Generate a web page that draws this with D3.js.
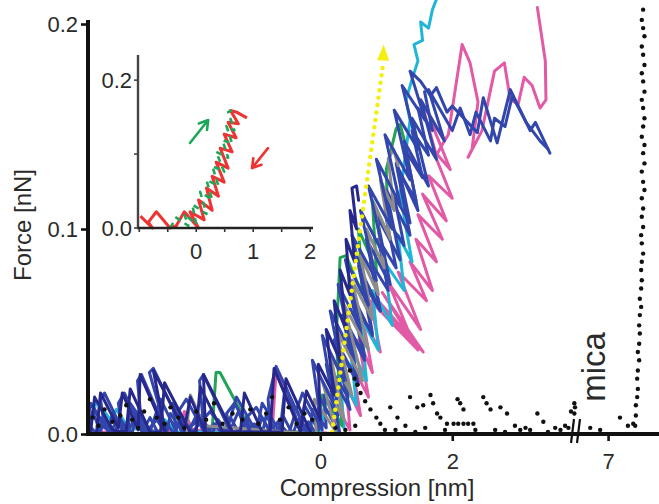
<!DOCTYPE html>
<html>
<head>
<meta charset="utf-8">
<script src="https://cdn.jsdelivr.net/npm/d3@7"></script>
<style>
  html, body { margin: 0; padding: 0; background: #fff; }
  svg { display: block; }
  text { font-family: "Liberation Sans", Arial, Helvetica, sans-serif; fill: #2a2a2a; }
</style>
</head>
<body>
<svg id="chart" width="659" height="504"></svg>
<script>
// ---- main panel: compression [nm] vs force [nN] ----
const xTicks = [0, 2, 7];
const yTicks = [0, 0.1, 0.2];

// blue approach curve, long run with plateau
const blueA = [[-3.52,0.007],[-3.48,0.015],[-3.27,0.003],[-3.33,0.017],[-3.27,0.020],[-3.00,0.002],[-3.06,0.015],[-2.97,0.020],[-2.70,0.002],[-2.77,0.026],[-2.71,0.029],[-2.33,0.001],[-2.59,0.030],[-2.53,0.032],[-2.06,0.001],[-2.15,0.011],[-2.03,0.017],[-1.76,0.001],[-1.83,0.026],[-1.77,0.029],[-1.36,0.001],[-1.42,0.010],[-1.30,0.015],[-1.06,0.001],[-1.12,0.008],[-0.97,0.013],[-0.76,0.001],[-0.79,0.017],[-0.67,0.033],[-0.21,0.001],[-0.36,0.012],[-0.30,0.017],
  [-0.27,0.020],[0.03,0.002],[-0.12,0.036],[0.21,0.014],[0.03,0.048],[0.36,0.026],[0.15,0.060],[0.48,0.039],[0.27,0.073],[0.61,0.051],[0.38,0.085],[0.73,0.063],[0.48,0.097],[0.85,0.075],[0.61,0.109],[0.97,0.087],[0.73,0.121],[1.09,0.100],[0.85,0.134],[1.21,0.112],[0.98,0.146],[1.36,0.124],[1.12,0.158],[1.48,0.139],[1.24,0.170],[1.59,0.153],[1.36,0.177],
  [1.52,0.172],[1.67,0.165],[1.76,0.169],[1.92,0.157],[2.00,0.160],[2.38,0.147],[2.47,0.164],[2.68,0.142],[2.88,0.168],[3.18,0.148],[3.26,0.152],[3.48,0.137]];

// second blue curve
const blueB = [[-3.52,0.002],[-3.42,0.012],[-3.21,0.001],[-3.15,0.010],[-2.91,0.001],[-2.88,0.015],[-2.58,0.001],[-2.42,0.017],[-2.18,0.001],[-2.24,0.015],[-1.94,0.001],[-1.67,0.011],[-1.42,0.001],[-1.27,0.018],[-0.97,0.001],[-0.88,0.015],[-0.61,0.001],[-0.53,0.024],[-0.30,0.001],[-0.24,0.014],[-0.03,0.002],
  [-0.03,0.019],[0.30,0.000],[0.09,0.034],[0.45,0.012],[0.21,0.046],[0.58,0.024],[0.33,0.058],[0.67,0.036],[0.45,0.070],[0.79,0.048],[0.58,0.082],[0.91,0.060],[0.70,0.095],[1.06,0.073],[0.85,0.107],[1.21,0.085],[1.00,0.119],[1.36,0.097],[1.15,0.132],[1.48,0.109],[1.27,0.143],[1.64,0.121],[1.39,0.154],[1.76,0.134],[1.52,0.163],[1.88,0.143],[1.64,0.168],[2.00,0.148],
  [2.12,0.159],[2.27,0.146],[2.36,0.157],[2.58,0.143],[2.64,0.154],[2.80,0.150],[2.91,0.165],[3.12,0.152],[3.33,0.143],[3.45,0.139]];

// third blue curve, finer steps through the contact region
const blueD = [[-0.15,0],[-0.12,0.012],[0.09,0.003],[0.06,0.019],[0.27,0.009],[0.21,0.029],[0.42,0.018],[0.33,0.040],[0.55,0.027],[0.45,0.051],[0.67,0.038],[0.55,0.061],[0.79,0.049],[0.67,0.073],[0.91,0.060],[0.76,0.084],[1.03,0.070],[0.88,0.095],[1.15,0.081],[1.00,0.105],[1.27,0.092],[1.12,0.116],[1.36,0.103],[1.21,0.127],[1.45,0.114],[1.30,0.138],[1.55,0.125],[1.39,0.148],[1.64,0.136],[1.48,0.159],[1.70,0.148],[1.58,0.167]];

// low-force blue noise before contact
const blueC = [[-3.52,0.003],[-3.45,0.011],[-3.33,0.001],[-3.27,0.008],[-3.12,0.001],[-3.03,0.007],[-2.85,0],[-2.79,0.010],[-2.64,0.001],[-2.48,0.007],[-2.33,0],[-2.27,0.010],[-2.09,0.001],[-1.91,0.005],[-1.82,0.009],[-1.64,0],[-1.55,0.007],[-1.39,0],[-1.24,0.011],[-1.12,0.001],[-1.00,0.005],[-0.88,0],[-0.82,0.009],[-0.67,0.001],[-0.55,0.008],[-0.42,0],[-0.33,0.007],[-0.12,0]];
const blueE = [[-3.52,0.005],[-3.39,0],[-3.30,0.008],[-3.18,0.001],[-3.09,0.006],[-2.94,0],[-2.82,0.007],[-2.70,0.001],[-2.58,0.008],[-2.45,0],[-2.33,0.005],[-2.21,0],[-2.12,0.007],[-2.00,0.001],[-1.88,0.009],[-1.73,0],[-1.61,0.005],[-1.48,0],[-1.36,0.008],[-1.24,0.001],[-1.12,0.006],[-0.97,0],[-0.88,0.008],[-0.76,0.001],[-0.64,0.006],[-0.48,0],[-0.39,0.009],[-0.27,0.001],[-0.18,0.006],[-0.06,0]];

// dark navy curves
const navy = [[-3.39,0.001],[-3.33,0.020],[-3.06,0.003],[-3.00,0.020],[-2.76,0.002],[-2.73,0.029],[-2.35,0.001],[-2.53,0.031],[-2.06,0.002],[-1.97,0.018],[-1.74,0.001],[-1.77,0.029],[-1.33,0.001],[-0.76,0.001],[-0.70,0.032],[-0.30,0.001],
  [-0.21,0.021],[0.00,0.007],[-0.03,0.034],[0.21,0.019],[0.09,0.051],[0.30,0.036],[0.21,0.065],[0.39,0.051],[0.30,0.080],[0.45,0.068],[0.39,0.095],[0.52,0.084],[0.45,0.109],[0.55,0.100],[0.48,0.120],[0.55,0.121],[0.58,0.114]];
const navyB = [[-3.48,0.001],[-3.42,0.018],[-3.15,0.002],[-2.94,0.001],[-2.88,0.022],[-2.58,0.001],[-2.42,0.001],[-2.36,0.025],[-1.97,0.001],[-1.88,0.001],[-1.82,0.023],[-1.48,0.001],[-1.21,0.001],[-1.15,0.020],[-0.88,0.001],[-0.58,0.001],[-0.52,0.027],[-0.15,0.001]];

const gray = [[-2.03,0.001],[-1.97,0.019],[-1.76,0.004],[-0.06,0],
  [-0.09,0.017],[0.24,0.001],[0.03,0.026],[0.36,0.007],[0.15,0.039],[0.48,0.019],[0.24,0.051],[0.64,0.026],[0.36,0.063],[0.73,0.041],[0.48,0.075],[0.79,0.056],[0.61,0.087],[0.88,0.068],[0.70,0.100],[0.97,0.081],[0.82,0.112],[1.06,0.095],[0.91,0.124],[1.12,0.109],[1.03,0.134],[1.11,0.139],[1.18,0.131]];

const green = [[-1.64,0.001],[-1.58,0.030],[-1.52,0.030],[-1.12,0.006],[-1.06,0.001],[-0.03,0.001],
  [0.03,0.019],[0.33,0.004],[0.24,0.046],[0.30,0.086],[0.39,0.087],[0.64,0.068],[0.58,0.100],[0.85,0.080],[0.79,0.114],[1.03,0.097],[1.00,0.129],[1.15,0.149],[1.21,0.151],[1.30,0.140]];

const cyan = [[-3.52,0.001],[-3.39,0.016],[-3.18,0.007],[-3.09,0.012],[-2.91,0.003],[-2.42,0.001],[-2.36,0.007],[-2.18,0.001],[-0.03,0.001],
  [0.00,0.001],[0.09,0.017],[0.36,0.003],[0.30,0.029],[0.55,0.014],[0.45,0.043],[0.70,0.026],[0.61,0.057],[0.88,0.041],[0.79,0.070],[1.09,0.053],[0.97,0.084],[1.27,0.070],[1.18,0.097],[1.39,0.084],[1.21,0.117],[1.30,0.139],[1.36,0.153],[1.30,0.163],[1.39,0.173],[1.48,0.182],[1.42,0.190],[1.55,0.192],[1.52,0.201],[1.64,0.198],[1.70,0.207],[1.76,0.212]];

const pink = [[-3.52,0.001],[-2.88,0.001],[-2.82,0.009],[-2.70,0.002],[-2.12,0.001],[-2.06,0.011],[-1.94,0.002],[-0.73,0.001],[-0.67,0.030],[-0.30,0.002],
  [0.21,0.000],[0.24,0.014],[0.45,0.002],[0.39,0.024],[0.61,0.009],[0.48,0.034],[0.73,0.018],[0.58,0.046],[0.79,0.030],[0.64,0.057],[0.91,0.040],[0.76,0.065],[1.48,0.041],[0.85,0.066],[1.56,0.040],[0.94,0.069],[1.39,0.046],[1.03,0.074],[1.52,0.051],[1.18,0.079],[1.61,0.065],[1.36,0.084],[1.70,0.070],[1.45,0.095],[1.76,0.084],[1.48,0.107],[1.85,0.095],[1.55,0.117],[1.91,0.104],[1.64,0.126],[2.00,0.115],[1.70,0.139],[1.97,0.129],[1.67,0.153],[1.79,0.148],[1.52,0.163],
  [1.76,0.136],[1.88,0.143],[1.94,0.146],[2.15,0.190],[2.27,0.181],[2.39,0.162],[2.30,0.139],[2.24,0.135],[2.45,0.148],[2.64,0.177],[2.79,0.181],[2.88,0.163],[3.00,0.161],[3.09,0.174],[3.21,0.170],[3.33,0.159],[3.42,0.163],[3.41,0.182],[3.35,0.195],[3.29,0.208]];

// black dotted curve: noise, retract jumps and the hard mica wall
const blackDots = [[-3.45,0.008],[-3.36,0.004],[-3.27,0.012],[-3.15,0.006],[-3.03,0.009],[-2.94,0.014],[-2.85,0.007],[-2.76,0.003],[-2.67,0.011],[-2.58,0.017],[-2.48,0.008],[-2.36,0.005],[-2.27,0.013],[-2.15,0.008],[-2.06,0.003],[-1.88,0.011],[-1.73,0.007],[-1.61,0.015],[-1.48,0.005],[-1.33,0.010],[-1.18,0.007],[-1.06,0.012],[-0.94,0.005],[-0.82,0.010],[-0.73,0.018],[-0.61,0.007],[-0.48,0.013],[-0.36,0.005],[-0.24,0.010],[-0.12,0.007],
  [0.45,0.031],[0.52,0.027],[0.56,0.024],[0.61,0.020],[0.68,0.016],[0.76,0.012],[0.85,0.008],[0.91,0.005],[1.06,0.013],[1.17,0.008],[1.29,0.004],[1.36,0.018],[1.47,0.013],[1.56,0.014],[1.67,0.019],[1.71,0.015],[1.77,0.010],[1.82,0.008],[1.92,0.005],[2.08,0.017],[2.12,0.015],[2.17,0.012],[2.02,0.005],[2.09,0.005],[2.17,0.005],[2.24,0.005],[2.32,0.005],[2.47,0.018],[2.52,0.015],[2.58,0.012],[2.73,0.013],[2.83,0.010],[2.95,0.004],[3.11,0.003],[3.29,0.010],[3.38,0.006],[3.56,0.003],[3.71,0.004],[3.80,0.011],[3.85,0.015],[3.86,0.013],[3.85,0.010],
  [0.23,0.003],[0.38,0.002],[0.53,0.004],[0.98,0.002],[1.14,0.002],[1.44,0.001],[1.59,0.003],[1.89,0.002],[2.35,0.002],[2.65,0.002],[2.80,0.001],[3.03,0.002],[3.18,0.002],[3.45,0.001],[3.64,0.002],[3.76,0.003],
  [6.73,0.003],[6.88,0.002],[7.18,0.008],[7.30,0.004],[7.38,0.005]];
const micaDots = [[7.41,0.004],[7.42,0.009],[7.42,0.014],[7.44,0.018],[7.45,0.022],[7.44,0.027],[7.45,0.031],[7.47,0.036],[7.45,0.040],[7.47,0.044],[7.48,0.049],[7.47,0.053],[7.48,0.058],[7.50,0.062],[7.48,0.066],[7.50,0.071],[7.51,0.075],[7.50,0.080],[7.51,0.084],[7.53,0.088],[7.51,0.093],[7.50,0.097],[7.53,0.101],[7.51,0.106],[7.53,0.110],[7.51,0.115],[7.55,0.119],[7.53,0.123],[7.51,0.128],[7.55,0.132],[7.53,0.137],[7.55,0.141],[7.51,0.145],[7.53,0.150],[7.55,0.154],[7.53,0.159],[7.51,0.163],[7.55,0.167],[7.53,0.172],[7.51,0.176],[7.55,0.180],[7.53,0.185],[7.51,0.189],[7.55,0.194],[7.53,0.198],[7.51,0.202],[7.53,0.207]];

// yellow guide: slope of the contact region
const guide = [[0.18,0.001],[0.95,0.18]];
const guideTip = [0.96,0.19];

// ---- inset: one approach / retract pair ----
const insetXTicks = [-1, -0.5, 0, 0.5, 1, 1.5, 2];
const insetXLabels = [0, 1, 2];
const insetYTicks = [0, 0.1, 0.2];
const insetYLabels = [0, 0.2];
const insetApproach = [[-0.46,0],[-0.35,0.014],[-0.14,0.003],[-0.21,0.019],[0,0.005],[-0.07,0.032],[0.18,0.019],[0.07,0.049],[0.28,0.038],[0.18,0.065],[0.39,0.057],[0.28,0.084],[0.49,0.076],[0.35,0.103],[0.56,0.095],[0.46,0.119],[0.63,0.114],[0.53,0.138],[0.67,0.132],[0.56,0.157],[0.63,0.159]];
const insetRetract = [[-0.98,0.016],[-0.77,0],[-0.84,0.008],[-0.70,0.022],[-0.46,0],[-0.35,0.003],[-0.21,0.022],[0.04,0],[-0.11,0.022],[0.14,0.011],[0.04,0.038],[0.28,0.024],[0.18,0.054],[0.39,0.043],[0.28,0.070],[0.49,0.062],[0.35,0.089],[0.56,0.081],[0.42,0.108],[0.63,0.103],[0.49,0.127],[0.70,0.122],[0.56,0.143],[0.74,0.141],[0.60,0.159],[0.70,0.157],[0.77,0.154],[0.89,0.149]];
const approachArrow = [[-0.11,0.115],[0.21,0.146]];
const retractArrow = [[1.26,0.108],[0.98,0.081]];

const colors = {
  blue: "#3246ac", navy: "#27288c", gray: "#8c8c8c", green: "#22a356",
  cyan: "#22b6d6", pink: "#e25aa6", black: "#111", yellow: "#f4ee10",
  inGreen: "#1fa65a", inRed: "#ee3333"
};

const svg = d3.select("#chart");

// broken x axis: the gap between the sample range and the mica wall is squeezed
const x = d3.scaleLinear().domain([-3.52, 3.86, 6.53, 7.77]).range([88, 575, 577, 659]);
const y = d3.scaleLinear().domain([0, 0.2]).range([434, 24]);
const line = d3.line().x(d => x(d[0])).y(d => y(d[1]));

svg.append("defs").append("clipPath").attr("id", "plotClip")
  .append("rect").attr("x", 88).attr("y", 0).attr("width", 571).attr("height", 437);

const plot = svg.append("g").attr("clip-path", "url(#plotClip)");

const traces = [
  [pink, colors.pink], [cyan, colors.cyan], [green, colors.green],
  [blueE, colors.blue], [blueC, colors.blue], [blueD, colors.blue], [blueB, colors.blue],
  [gray, colors.gray], [blueA, colors.blue], [navyB, colors.navy], [navy, colors.navy]
];
plot.selectAll("path.trace").data(traces).join("path")
  .attr("class", "trace")
  .attr("d", d => line(d[0]))
  .attr("fill", "none")
  .attr("stroke", d => d[1])
  .attr("stroke-width", 3)
  .attr("stroke-linejoin", "round")
  .attr("stroke-linecap", "round");

plot.selectAll("circle.dot").data(blackDots.concat(micaDots)).join("circle")
  .attr("class", "dot")
  .attr("cx", d => x(d[0])).attr("cy", d => y(d[1]))
  .attr("r", 2.2).attr("fill", colors.black);

// yellow dotted guide with triangular head
plot.append("path").attr("d", line(guide))
  .attr("fill", "none").attr("stroke", colors.yellow)
  .attr("stroke-width", 4.5).attr("stroke-linecap", "round")
  .attr("stroke-dasharray", "0,7.5");
{
  const tx = x(guideTip[0]), ty = y(guideTip[1]);
  const bx = x(guide[1][0]), by = y(guide[1][1]);
  const ang = Math.atan2(ty - by, tx - bx);
  const len = 16, half = 6;
  const px = tx - len * Math.cos(ang), py = ty - len * Math.sin(ang);
  const nx = -Math.sin(ang), ny = Math.cos(ang);
  plot.append("path")
    .attr("d", `M${tx},${ty}L${px + nx * half},${py + ny * half}L${px - nx * half},${py - ny * half}Z`)
    .attr("fill", colors.yellow);
}

// axes
const axisStyle = g => {
  g.select(".domain").remove();
  g.selectAll(".tick line").attr("stroke", "#111").attr("stroke-width", 2.6);
  g.selectAll(".tick text").attr("font-size", 22).attr("fill", "#2a2a2a")
    .style("font-family", '"Liberation Sans", Arial, sans-serif');
};

svg.append("g").attr("transform", "translate(0,434)")
  .call(d3.axisBottom(x).tickValues(xTicks).tickFormat(d3.format("d")).tickSize(7).tickPadding(12))
  .call(axisStyle);

svg.append("g").attr("transform", "translate(88,0)")
  .call(d3.axisLeft(y).tickValues(yTicks).tickFormat(d3.format(".1f")).tickSize(7).tickPadding(3))
  .call(axisStyle);

svg.append("line").attr("x1", 88).attr("x2", 659).attr("y1", 434).attr("y2", 434)
  .attr("stroke", "#111").attr("stroke-width", 4);
svg.append("line").attr("x1", 88).attr("x2", 88).attr("y1", y(0) + 2).attr("y2", y(0.2) - 4)
  .attr("stroke", "#111").attr("stroke-width", 4);

// axis break marks
[571, 577].forEach(bx => {
  svg.append("line").attr("x1", bx).attr("y1", 443).attr("x2", bx + 3).attr("y2", 419)
    .attr("stroke", "#111").attr("stroke-width", 2.2);
});

svg.append("text").attr("x", 377).attr("y", 496).attr("text-anchor", "middle")
  .attr("font-size", 24).text("Compression [nm]");
svg.append("text").attr("transform", "translate(31,225) rotate(-90)")
  .attr("text-anchor", "middle").attr("font-size", 24).text("Force [nN]");
svg.append("text").attr("transform", "translate(605,367) rotate(-90)")
  .attr("text-anchor", "middle").attr("font-size", 33).attr("fill", "#1a1a1a").text("mica");

// ---- inset ----
const xi = d3.scaleLinear().domain([-1.04, 2.05]).range([137, 313]);
const yi = d3.scaleLinear().domain([0, 0.234]).range([228, 55]);
const linei = d3.line().x(d => xi(d[0])).y(d => yi(d[1]));
const inset = svg.append("g");

inset.append("path").attr("d", linei(insetRetract)).attr("fill", "none")
  .attr("stroke", colors.inRed).attr("stroke-width", 3).attr("stroke-linejoin", "round");
inset.append("path").attr("d", linei(insetApproach)).attr("fill", "none")
  .attr("stroke", colors.inGreen).attr("stroke-width", 2.6).attr("stroke-linejoin", "round")
  .attr("stroke-dasharray", "6,5");

function arrow(pts, color) {
  const x0 = xi(pts[0][0]), y0 = yi(pts[0][1]);
  const x1 = xi(pts[1][0]), y1 = yi(pts[1][1]);
  const ang = Math.atan2(y1 - y0, x1 - x0);
  const L = 10, spread = 0.55;
  const hx1 = x1 - L * Math.cos(ang - spread), hy1 = y1 - L * Math.sin(ang - spread);
  const hx2 = x1 - L * Math.cos(ang + spread), hy2 = y1 - L * Math.sin(ang + spread);
  inset.append("path")
    .attr("d", `M${x0},${y0}L${x1},${y1}M${hx1},${hy1}L${x1},${y1}L${hx2},${hy2}`)
    .attr("fill", "none").attr("stroke", color).attr("stroke-width", 2.6)
    .attr("stroke-linecap", "round").attr("stroke-linejoin", "round");
}
arrow(approachArrow, colors.inGreen);
arrow(retractArrow, colors.inRed);

inset.append("line").attr("x1", 138).attr("x2", 138).attr("y1", 229).attr("y2", 55)
  .attr("stroke", "#444").attr("stroke-width", 2.4);
inset.append("line").attr("x1", 137).attr("x2", 313).attr("y1", 228).attr("y2", 228)
  .attr("stroke", "#222").attr("stroke-width", 2.6);

inset.selectAll("line.ixt").data(insetXTicks.filter(v => v > -1.04)).join("line")
  .attr("class", "ixt").attr("x1", d => xi(d)).attr("x2", d => xi(d))
  .attr("y1", 228).attr("y2", 232).attr("stroke", "#333").attr("stroke-width", 1.6);
inset.selectAll("text.ixl").data(insetXLabels).join("text")
  .attr("class", "ixl").attr("x", d => xi(d)).attr("y", 259)
  .attr("text-anchor", "middle").attr("font-size", 22).text(d => d);

inset.selectAll("line.iyt").data(insetYTicks).join("line")
  .attr("class", "iyt").attr("x1", 134).attr("x2", 138)
  .attr("y1", d => yi(d)).attr("y2", d => yi(d)).attr("stroke", "#444").attr("stroke-width", 1.6);
inset.selectAll("text.iyl").data(insetYLabels).join("text")
  .attr("class", "iyl").attr("x", 132).attr("y", d => yi(d) + 8)
  .attr("text-anchor", "end").attr("font-size", 22).text(d => d3.format(".1f")(d));
</script>
</body>
</html>
